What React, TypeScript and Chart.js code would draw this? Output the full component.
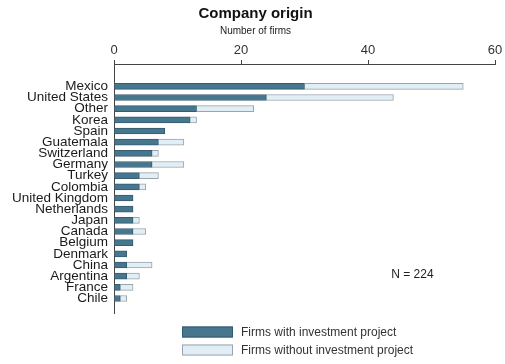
import React, { useEffect, useRef } from "react";
import { Chart, registerables } from "chart.js";

Chart.register(...registerables);

const categories = [
  "Mexico", "United States", "Other", "Korea", "Spain", "Guatemala", "Switzerland",
  "Germany", "Turkey", "Colombia", "United Kingdom", "Netherlands", "Japan", "Canada",
  "Belgium", "Denmark", "China", "Argentina", "France", "Chile",
];
const withProject = [30, 24, 13, 12, 8, 7, 6, 6, 4, 4, 3, 3, 3, 3, 3, 2, 2, 2, 1, 1];
const withoutProject = [25, 20, 9, 1, 0, 4, 1, 5, 3, 1, 0, 0, 1, 2, 0, 0, 4, 2, 2, 1];
const seriesLabels = ["Firms with investment project", "Firms without investment project"];
const xTicks = [0, 20, 40, 60];
const noteText = "N = 224";

const FONT = "'Liberation Sans', Arial, Helvetica, sans-serif";
const DARK = "#46778f";
const DARK_BORDER = "#355b6e";
const LIGHT = "#e2eef5";
const LIGHT_BORDER = "#9aa4ab";

const extrasPlugin = {
  id: "extras",
  afterDraw(chart: any) {
    const { ctx, chartArea, scales, height } = chart;
    ctx.save();
    // N annotation
    ctx.font = `12px ${FONT}`;
    ctx.fillStyle = "#222";
    ctx.textAlign = "center";
    ctx.textBaseline = "middle";
    ctx.fillText(noteText, scales.x.getPixelForValue(47), scales.y.getPixelForValue(16.9));
    // legend
    const boxW = 51;
    const boxH = 11;
    const left = chartArea.left + 68;
    const rows = [
      { y: height - 37.5, fill: DARK, stroke: DARK_BORDER, text: seriesLabels[0] },
      { y: height - 19.5, fill: LIGHT, stroke: LIGHT_BORDER, text: seriesLabels[1] },
    ];
    ctx.textAlign = "left";
    ctx.font = `12px ${FONT}`;
    rows.forEach((r) => {
      ctx.fillStyle = r.fill;
      ctx.fillRect(left, r.y, boxW, boxH);
      ctx.strokeStyle = r.stroke;
      ctx.lineWidth = 1;
      ctx.strokeRect(left + 0.5, r.y + 0.5, boxW - 1, boxH - 1);
      ctx.fillStyle = "#333";
      ctx.fillText(r.text, left + boxW + 8, r.y + boxH / 2 + 0.5);
    });
    ctx.restore();
  },
};

export default function App() {
  const canvasRef = useRef<HTMLCanvasElement | null>(null);

  useEffect(() => {
    document.body.style.margin = "0";
    document.body.style.overflow = "hidden";
    const canvas = canvasRef.current;
    if (!canvas) return;
    const chart = new Chart(canvas, {
      type: "bar",
      data: {
        datasets: [
          {
            label: seriesLabels[0],
            data: categories.map((_, i) => ({ x: withProject[i], y: i })),
            backgroundColor: DARK,
            borderColor: DARK_BORDER,
            borderWidth: 1,
            barThickness: 6,
          },
          {
            label: seriesLabels[1],
            data: categories.map((_, i) => ({ x: withoutProject[i], y: i })),
            backgroundColor: LIGHT,
            borderColor: LIGHT_BORDER,
            borderWidth: 1,
            barThickness: 6,
          },
        ] as any,
      },
      options: {
        indexAxis: "y",
        animation: false,
        responsive: true,
        maintainAspectRatio: false,
        layout: { padding: { left: 6, right: 0, top: 0, bottom: 51 } },
        plugins: {
          legend: { display: false },
          tooltip: { enabled: false },
          title: {
            display: true,
            text: "Company origin",
            color: "#111",
            font: { family: FONT, size: 15, weight: "bold" },
            padding: { top: 5, bottom: 0 },
          },
          subtitle: {
            display: true,
            text: "Number of firms",
            color: "#222",
            font: { family: FONT, size: 10 },
            padding: { top: 2, bottom: 0 },
          },
        },
        scales: {
          x: {
            type: "linear",
            position: "top",
            stacked: true,
            min: 0,
            max: 60,
            afterBuildTicks: (s: any) => {
              s.ticks = xTicks.map((v) => ({ value: v }));
            },
            afterFit: (s: any) => {
              s.height = 27;
              s.paddingRight = 10;
            },
            ticks: {
              color: "#333",
              font: { family: FONT, size: 13 },
              padding: 2,
            },
            grid: {
              display: true,
              drawOnChartArea: false,
              drawTicks: true,
              tickLength: 4,
              color: "#444",
            },
            border: { display: true, color: "#444", width: 1 },
          },
          y: {
            type: "linear",
            reverse: true,
            stacked: true,
            offset: false,
            min: -2,
            max: 20.3,
            afterBuildTicks: (s: any) => {
              s.ticks = categories.map((_, i) => ({ value: i }));
            },
            afterFit: (s: any) => {
              s.width = 108;
              s.paddingTop = 0;
              s.paddingBottom = 0;
            },
            ticks: {
              autoSkip: false,
              color: "#1a1a1a",
              font: { family: FONT, size: 13.5 },
              padding: 6,
              callback: (v: any) => categories[v as number] ?? "",
            },
            grid: { display: false, drawTicks: false },
            border: { display: true, color: "#444", width: 1 },
          },
        },
      } as any,
      plugins: [extrasPlugin],
    });
    return () => chart.destroy();
  }, []);

  return (
    <div style={{ position: "relative", width: "505px", height: "364px" }}>
      <canvas ref={canvasRef} />
    </div>
  );
}
